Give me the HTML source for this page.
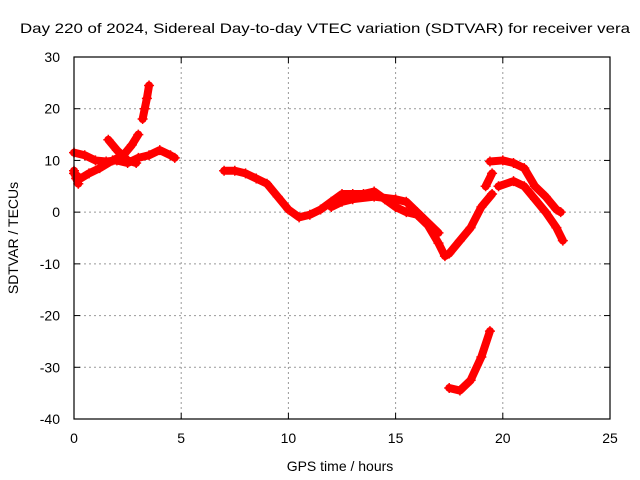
<!DOCTYPE html>
<html><head><meta charset="utf-8"><style>
body{margin:0;background:#fff}
svg{display:block;font-family:"Liberation Sans",sans-serif;font-size:14px}
</style></head><body>
<svg id="chart" width="640" height="480">
<text x="20" y="33" textLength="610" lengthAdjust="spacingAndGlyphs">Day 220 of 2024, Sidereal Day-to-day VTEC variation (SDTVAR) for receiver vera</text>
<text x="340" y="471" text-anchor="middle">GPS time / hours</text>
<text transform="translate(18,238) rotate(-90)" text-anchor="middle">SDTVAR / TECUs</text>
<g id="grid"></g><g id="marks"></g>
<rect x="74" y="57" width="536" height="362" fill="none" stroke="#000" stroke-width="1.2"/>
<g id="ticks"></g>
</svg>
<script>
const xTicks=[0,5,10,15,20,25];
const yTicks=[30,20,10,0,-10,-20,-30,-40];
const track1=[[0,11.5],[0.5,11],[1,10],[1.5,9.8],[2,10],[2.5,9.5],[3,10.5],[3.5,11],[4,12],[4.5,11],[4.7,10.5]];
const track2=[[0,7.5],[0.3,6.5],[0.7,7.5],[1.2,8.5],[1.8,10],[2.3,11],[2.7,13],[3.0,15]];
const track3=[[0,8],[0.1,6.5],[0.2,5.5]];
const track4=[[1.6,14],[2.0,12],[2.5,10],[2.9,9.5]];
const track5=[[3.2,18],[3.3,20],[3.4,22],[3.5,24.5]];
const track6=[[7,8],[7.5,8],[8,7.5],[8.5,6.5],[9,5.5],[9.5,3],[10,0.5],[10.5,-1],[11,-0.5],[11.5,0.5],[12,2],[12.5,3.5],[13,3.5],[13.5,3.5],[14,4],[14.5,2.5],[15,1],[15.5,0],[16,-0.5],[16.5,-2.5],[17,-6],[17.3,-8.5],[17.5,-8],[18,-5.5],[18.5,-3],[19,1],[19.5,3.5]];
const track7=[[12,1],[12.5,2],[13,2.5],[14,3],[15,2.5],[15.5,2],[16,0],[16.5,-2],[17,-4]];
const track8=[[19.2,5],[19.5,7.5]];
const track9=[[19.4,9.8],[20,10],[20.5,9.5],[21,8.5],[21.5,5],[22,3],[22.5,0.5],[22.7,0]];
const track10=[[19.8,5],[20.5,6],[21,5],[21.5,2.5],[22,0],[22.5,-3],[22.8,-5.5]];
const track11=[[17.5,-34],[18,-34.5],[18.5,-32.5],[19,-28],[19.4,-23]];
const tracks=[track1,track2,track3,track4,track5,track6,track7,track8,track9,track10,track11];
const NS="http://www.w3.org/2000/svg";
const sx=h=>74+h*536/25, sy=v=>57+(30-v)*362/70;
function mk(t,a,p){const e=document.createElementNS(NS,t);for(const k in a)e.setAttribute(k,a[k]);p.appendChild(e);return e;}
const grid=document.getElementById('grid'),ticks=document.getElementById('ticks'),marks=document.getElementById('marks');
xTicks.forEach(t=>{const x=sx(t);
 if(t>0&&t<25){const g=mk('line',{x1:x,x2:x,y1:57,y2:419,stroke:'#999','stroke-dasharray':'2,3'},grid);
 
 }
 const l=mk('text',{x:x,y:443,'text-anchor':'middle'},ticks);l.textContent=t;
 
 
 mk('line',{x1:x,x2:x,y1:419,y2:413,stroke:'#000'},ticks);mk('line',{x1:x,x2:x,y1:57,y2:63,stroke:'#000'},ticks);});
yTicks.forEach(t=>{const y=sy(t);
 if(t<30&&t>-40){const g=mk('line',{x1:74,x2:610,y1:y,y2:y,stroke:'#999','stroke-dasharray':'2,3'},grid);
 
 }
 const l=mk('text',{x:60,y:y+5,'text-anchor':'end'},ticks);l.textContent=t;
 
 
 mk('line',{x1:74,x2:80,y1:y,y2:y,stroke:'#000'},ticks);mk('line',{x1:610,x2:604,y1:y,y2:y,stroke:'#000'},ticks);});
tracks.forEach((tr,i)=>{
 const pl=mk('polyline',{points:tr.map(p=>sx(p[0])+','+sy(p[1])).join(' '),fill:'none',stroke:'#f00','stroke-width':8,'stroke-linejoin':'round','stroke-linecap':'round'},marks);
 
 
 tr.forEach(p=>{const x=sx(p[0]),y=sy(p[1]);
  const m=mk('path',{d:`M${x-5},${y}H${x+5}M${x},${y-5}V${y+5}`,stroke:'#f00','stroke-width':1.5},marks);
  
  });
});
</script>
</body></html>
